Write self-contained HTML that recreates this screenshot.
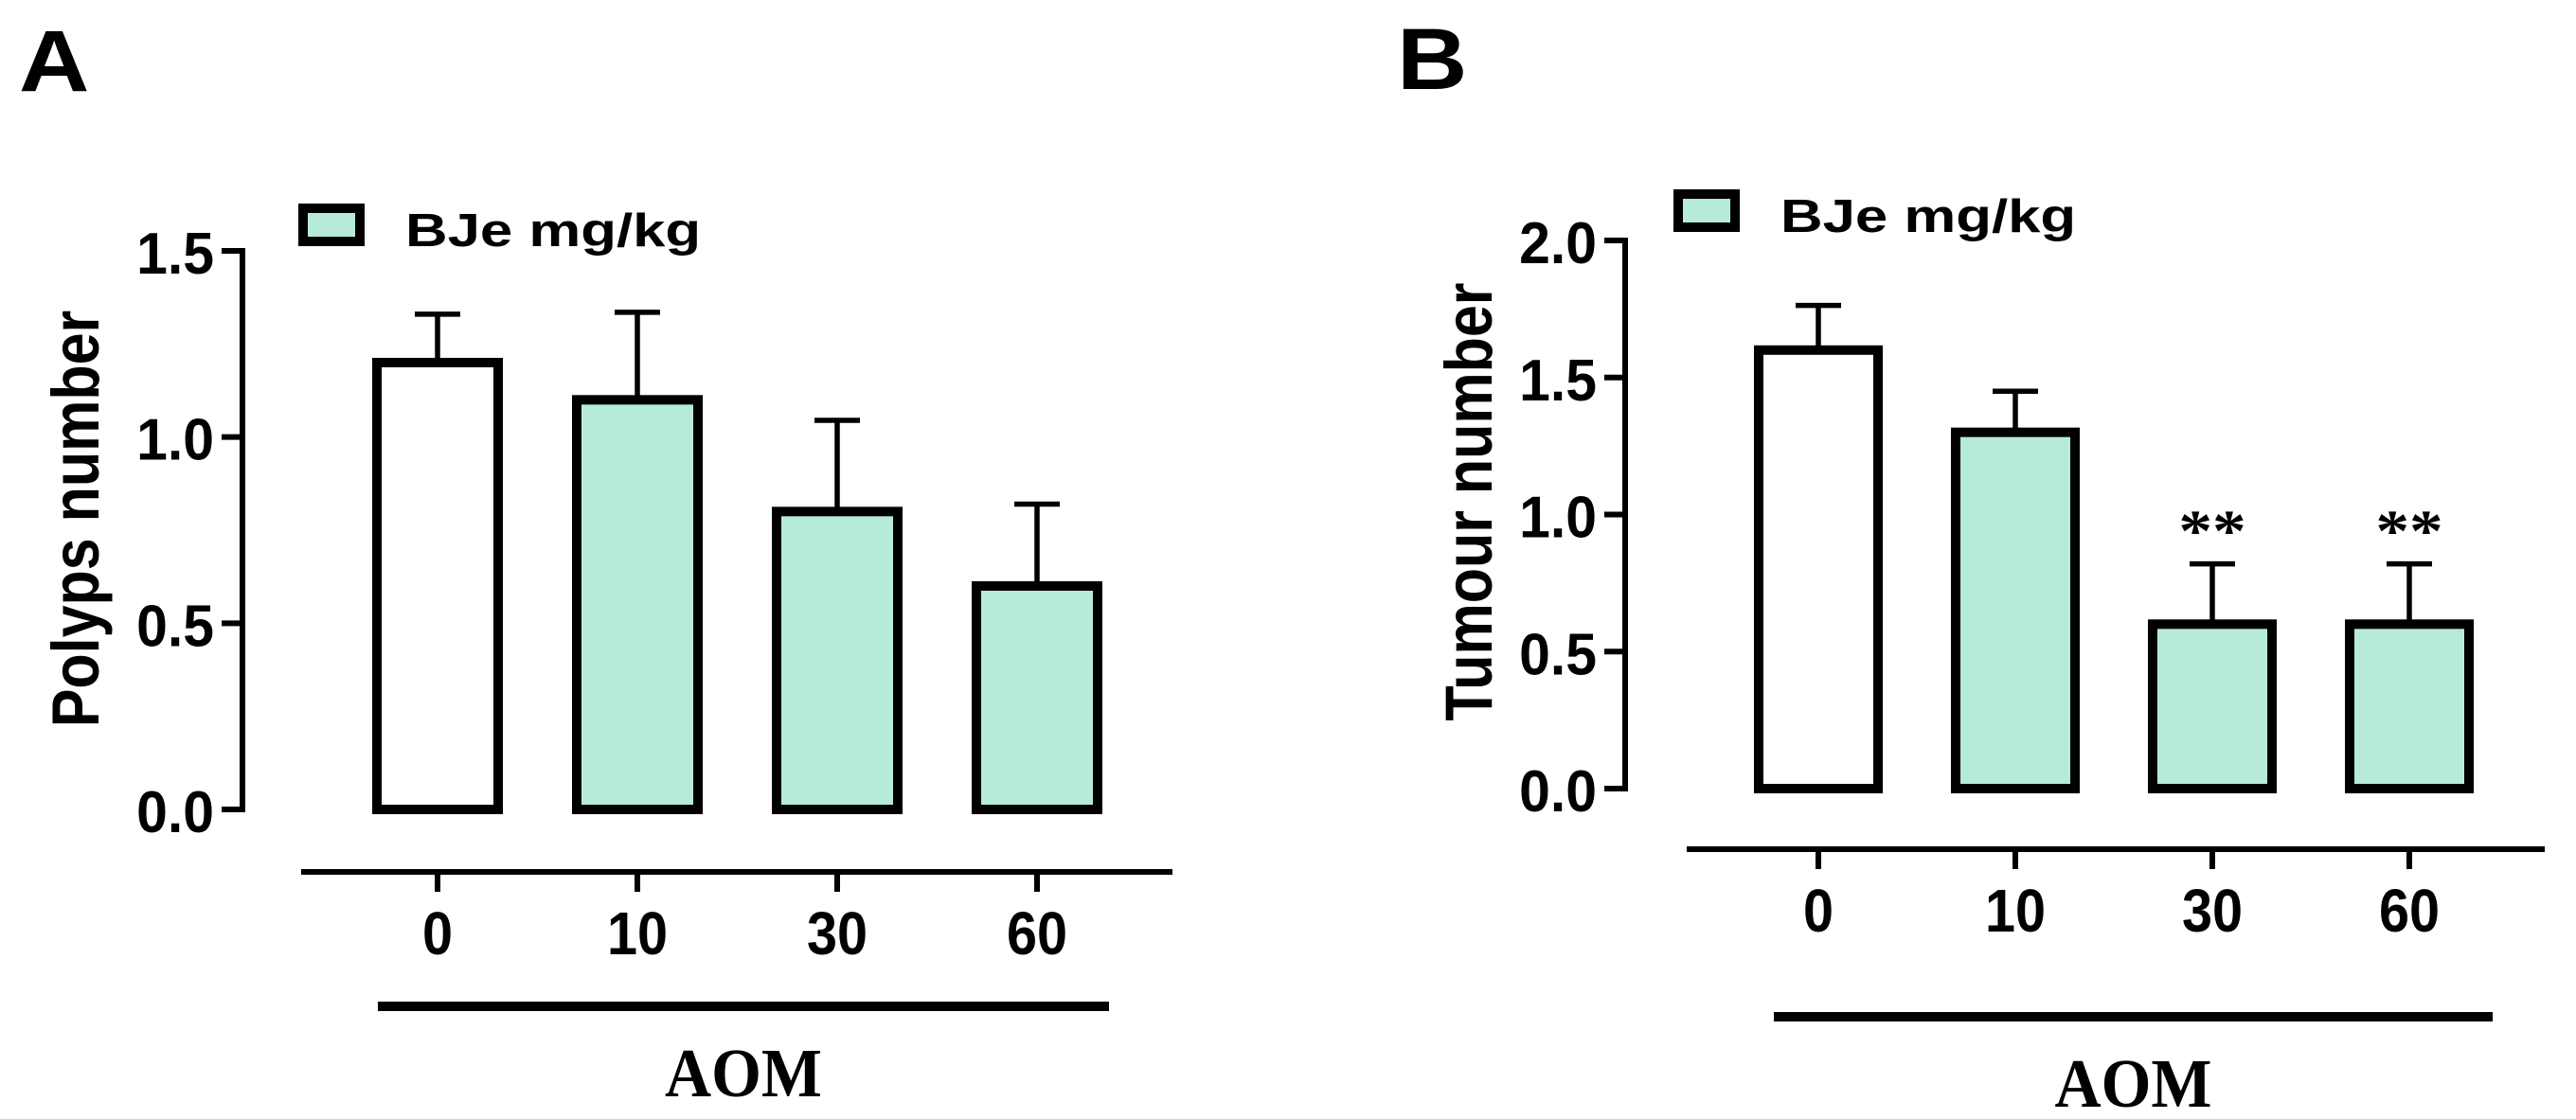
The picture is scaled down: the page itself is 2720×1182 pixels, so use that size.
<!DOCTYPE html>
<html><head><meta charset="utf-8"><style>
html,body{margin:0;padding:0;background:#fff;overflow:hidden;}
svg{display:block;}
text{font-family:"Liberation Sans",sans-serif;font-weight:bold;fill:#000;}
.serif{font-family:"Liberation Serif",serif;}
</style></head><body>
<svg id="fig" width="2720" height="1182" viewBox="0 0 2720 1182" xmlns="http://www.w3.org/2000/svg"></svg>
<script>
const categories = ["0", "10", "30", "60"];
const valuesA = [1.2, 1.1, 0.8, 0.6];
const errTopA = [1.33, 1.335, 1.045, 0.82];
const ticksA = ["0.0", "0.5", "1.0", "1.5"];
const valuesB = [1.6, 1.3, 0.6, 0.6];
const errTopB = [1.763, 1.45, 0.82, 0.82];
const ticksB = ["0.0", "0.5", "1.0", "1.5", "2.0"];
const starsB = ["", "", "**", "**"];

const NS = "http://www.w3.org/2000/svg";
const svg = document.getElementById("fig");
function mk(tag, attrs, parent, txt) {
  const e = document.createElementNS(NS, tag);
  for (const k in attrs) e.setAttribute(k, attrs[k]);
  if (txt !== undefined) e.textContent = txt;
  (parent || svg).appendChild(e);
  return e;
}
function txt(parent, x, y, size, sx, anchor, s, cls) {
  const a = {x: 0, y: 0, "font-size": size, "text-anchor": anchor, transform: `translate(${x},${y}) scale(${sx},1)`};
  if (cls) a["class"] = cls;
  return mk("text", a, parent, s);
}

function panel(p) {
  const g = mk("g", {});
  
  
  const y = v => p.y0 - (v / p.ymax) * (p.y0 - p.ytop);
  const x = i => p.x0 + i * p.step;

  const lbl = txt(g, p.lx, p.ly, 92, 1.12, "start", p.letter);
  
  

  const ax = mk("line", {x1: p.ax, y1: p.ytop - 3, x2: p.ax, y2: p.y0 + 3, stroke: "#000", "stroke-width": 6}, g);
  
  
  p.ticks.forEach(t => {
    const v = parseFloat(t);
    const tk = mk("line", {x1: p.ax - 22, y1: y(v), x2: p.ax, y2: y(v), stroke: "#000", "stroke-width": 6}, g);
    
    
    const tl = txt(g, p.ax - 30, y(v) + 24, 62, 0.95, "end", t);
    
    
  });
  const yt = mk("text", {x: 0, y: 0, "font-size": 61, "text-anchor": "middle", transform: `translate(${p.tx},${p.ty}) rotate(-90) scale(1,1.15)`}, g, p.title);
  
  

  p.values.forEach((v, i) => {
    const cx = x(i);
    const et = mk("line", {x1: cx, y1: y(p.err[i]), x2: cx, y2: y(v), stroke: "#000", "stroke-width": 5.5}, g);
    
    
    const ec = mk("line", {x1: cx - 24, y1: y(p.err[i]), x2: cx + 24, y2: y(p.err[i]), stroke: "#000", "stroke-width": 5.5}, g);
    
    
    const b = mk("rect", {x: cx - p.bw / 2, y: y(v), width: p.bw, height: y(0) - y(v), fill: i === 0 ? "#fff" : "#b6eada", stroke: "#000", "stroke-width": 10}, g);
    
    
    if (p.stars && p.stars[i]) {
      const s = txt(g, cx, y(p.err[i]) - 14, 62, 1.15, "middle", p.stars[i], "serif");
      
      
    }
  });

  const cxl = mk("line", {x1: p.cx1, y1: p.cy, x2: p.cx2, y2: p.cy, stroke: "#000", "stroke-width": 6}, g);
  
  
  categories.forEach((c, i) => {
    const t = mk("line", {x1: x(i), y1: p.cy, x2: x(i), y2: p.cy + 21, stroke: "#000", "stroke-width": 6}, g);
    
    
    const l = txt(g, x(i), p.cy + 87, 64, 0.9, "middle", c);
    
    
  });
  const ab = mk("rect", {x: p.a1, y: p.ay - 5, width: p.a2 - p.a1, height: 10, fill: "#000"}, g);
  
  
  const at = txt(g, (p.a1 + p.a2) / 2, p.ay + 95, 73, 0.93, "middle", "AOM", "serif");
  
  

  const lb = mk("rect", {x: p.lgx, y: p.lgy, width: 60, height: 35, fill: "#b6eada", stroke: "#000", "stroke-width": 10}, g);
  
  
  const lt = txt(g, p.lgx + 108, p.lgy + 40, 49, 1.26, "start", "BJe mg/kg");
  
  
}

panel({id: "polyps", letter: "A", lx: 20, ly: 96, values: valuesA, err: errTopA, ticks: ticksA, ymax: 1.5,
  y0: 855, ytop: 265, ax: 256, x0: 462, step: 211, bw: 128, title: "Polyps number", tx: 104, ty: 548,
  cx1: 318, cx2: 1238, cy: 921, a1: 399, a2: 1171, ay: 1063, lgx: 320, lgy: 220});
panel({id: "tumour", letter: "B", lx: 1475, ly: 94, values: valuesB, err: errTopB, ticks: ticksB, ymax: 2.0, stars: starsB,
  y0: 833, ytop: 254, ax: 1716, x0: 1920, step: 208, bw: 126, title: "Tumour number", tx: 1575, ty: 530,
  cx1: 1781, cx2: 2687, cy: 897, a1: 1873, a2: 2632, ay: 1074, lgx: 1772, lgy: 205});
</script>
</body></html>
